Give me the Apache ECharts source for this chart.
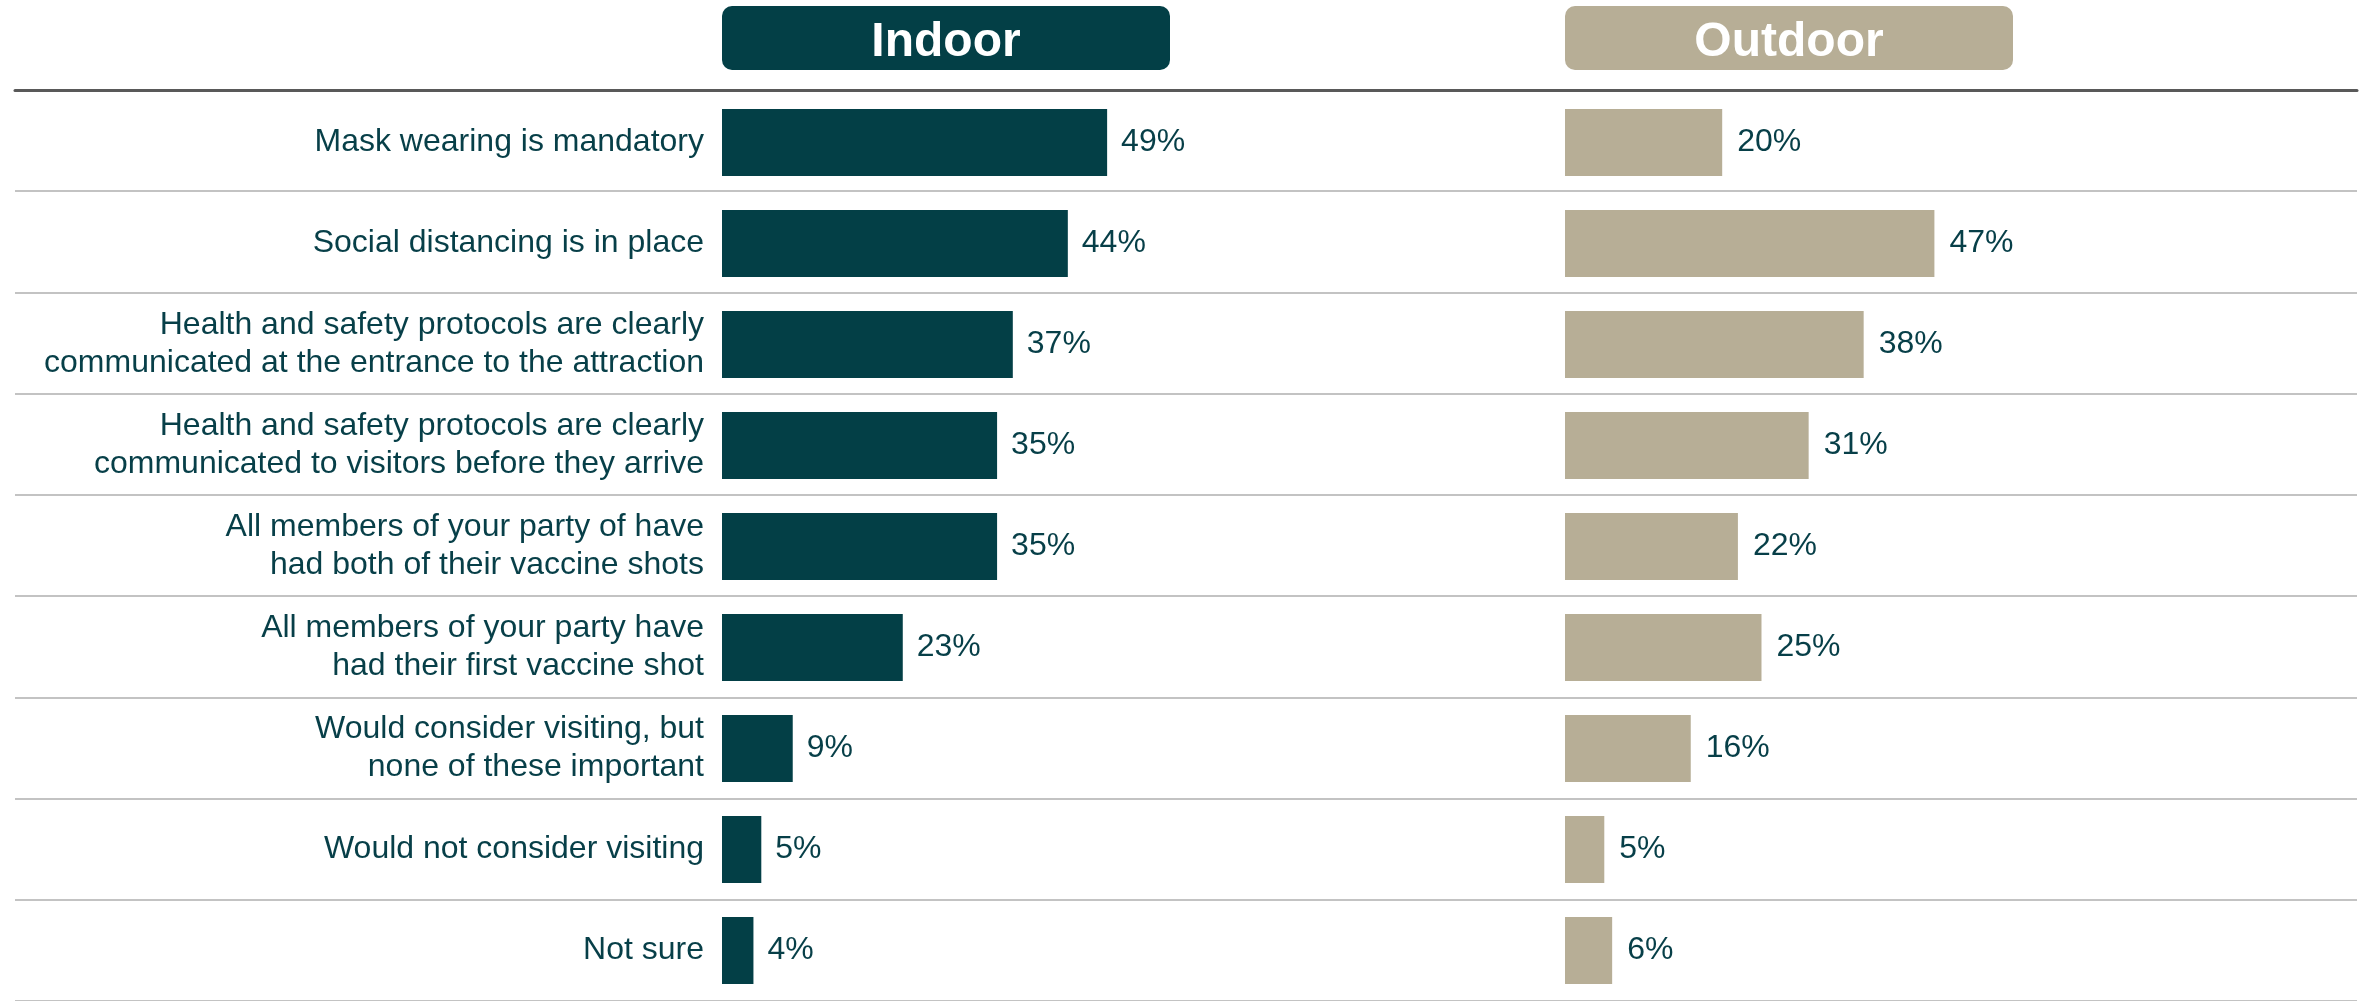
<!DOCTYPE html>
<html><head><meta charset="utf-8">
<script src="https://cdn.jsdelivr.net/npm/echarts@6/dist/echarts.min.js"></script>
<style>html,body{margin:0;padding:0;background:#fff}#c{width:2364px;height:1001px}</style>
</head><body><div id="c"></div>
<script>
const categories = [
  'Mask wearing is mandatory',
  'Social distancing is in place',
  'Health and safety protocols are clearly\ncommunicated at the entrance to the attraction',
  'Health and safety protocols are clearly\ncommunicated to visitors before they arrive',
  'All members of your party of have\nhad both of their vaccine shots',
  'All members of your party have\nhad their first vaccine shot',
  'Would consider visiting, but\nnone of these important',
  'Would not consider visiting',
  'Not sure'
];
const indoorValues = [49, 44, 37, 35, 35, 23, 9, 5, 4];
const outdoorValues = [20, 47, 38, 31, 22, 25, 16, 5, 6];
const panelTitles = ['Indoor', 'Outdoor'];

const FONT = 'Arial, "Liberation Sans", sans-serif';
const TEXT = '#073f48';
const C_IN = '#033f46';
const C_OUT = '#b7ae96';
const H = 915;

const chart = echarts.init(document.getElementById('c'), null, {renderer: 'canvas'});
function header(name, color) {
  return {
    name: '{h|' + name + '}', nameLocation: 'middle', nameGap: 27,
    nameTextStyle: {
      rich: {
        h: {
          color: '#fff', fontSize: 48, fontWeight: 'bold', fontFamily: FONT,
          backgroundColor: color, borderRadius: 10,
          width: 448, height: 54, lineHeight: 54, padding: [10, 0, 0, 0], align: 'center'
        }
      }
    }
  };
}
chart.setOption({
  animation: false,
  grid: [
    {left: 15, right: 7, top: 90, height: H},
    {left: 722, width: 448, top: 92, height: H},
    {left: 1565, width: 448, top: 92, height: H}
  ],
  xAxis: [
    {gridIndex: 0, type: 'value', position: 'top', z: 5,
     axisLine: {show: true, lineStyle: {color: '#595959', width: 3}},
     axisTick: {show: false}, axisLabel: {show: false}, splitLine: {show: false}},
    Object.assign({gridIndex: 1, type: 'value', min: 0, max: 57, position: 'top',
     axisLine: {show: false}, axisTick: {show: false}, axisLabel: {show: false}, splitLine: {show: false}},
     header(panelTitles[0], C_IN)),
    Object.assign({gridIndex: 2, type: 'value', min: 0, max: 57, position: 'top',
     axisLine: {show: false}, axisTick: {show: false}, axisLabel: {show: false}, splitLine: {show: false}},
     header(panelTitles[1], C_OUT))
  ],
  yAxis: [
    {gridIndex: 0, type: 'category', data: categories, inverse: true,
     axisLine: {show: false}, axisTick: {show: false}, axisLabel: {show: false},
     splitLine: {show: true, lineStyle: {color: '#c3c3c3', width: 2}}},
    {gridIndex: 1, type: 'category', data: categories, inverse: true,
     axisLine: {show: false}, axisTick: {show: false}, splitLine: {show: false},
     axisLabel: {show: true, margin: 18, color: TEXT, fontSize: 32, fontFamily: FONT, lineHeight: 38, align: 'right'}},
    {gridIndex: 2, type: 'category', data: categories, inverse: true,
     axisLine: {show: false}, axisTick: {show: false}, splitLine: {show: false}, axisLabel: {show: false}}
  ],
  series: [
    {type: 'bar', xAxisIndex: 1, yAxisIndex: 1, data: indoorValues, barWidth: 67,
     itemStyle: {color: C_IN},
     label: {show: true, position: 'right', distance: 14, formatter: '{c}%', color: TEXT, fontSize: 32, fontFamily: FONT}},
    {type: 'bar', xAxisIndex: 2, yAxisIndex: 2, data: outdoorValues, barWidth: 67,
     itemStyle: {color: C_OUT},
     label: {show: true, position: 'right', distance: 15, formatter: '{c}%', color: TEXT, fontSize: 32, fontFamily: FONT}}
  ]
});
</script></body></html>
